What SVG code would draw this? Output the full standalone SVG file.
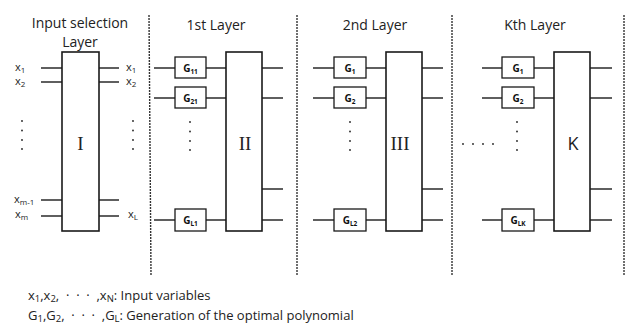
<svg xmlns="http://www.w3.org/2000/svg" width="626" height="325" viewBox="0 0 626 325">
  <style>
    .bg { fill: #ffffff; }
    .blk { fill: #ffffff; stroke: #1a1a1a; stroke-width: 1.6; }
    .gbox { fill: #ffffff; stroke: #1a1a1a; stroke-width: 1.3; }
    .wire { stroke: #1a1a1a; stroke-width: 1.4; fill: none; }
    .sep { stroke: #333333; stroke-width: 1.4; stroke-dasharray: 2 1; fill: none; }
    .title { font-family: "Open Sans", "Noto Sans", sans-serif; font-size: 14px; fill: #222222; text-anchor: middle; }
    .lbl { font-family: "Open Sans", "Noto Sans", sans-serif; font-size: 11px; fill: #222222; }
    .sub { font-size: 8px; }
    .g { font-family: "Open Sans", "Noto Sans", sans-serif; font-size: 10px; font-weight: bold; fill: #111111; text-anchor: middle; }
    .gsub { font-size: 6.5px; }
    .roman { font-family: "Liberation Serif", serif; font-size: 19px; fill: #222222; text-anchor: middle; }
    .kname { font-family: "Open Sans", "Noto Sans", sans-serif; font-size: 18px; fill: #222222; text-anchor: middle; }
    .dot { fill: #222222; }
    .note { font-family: "Open Sans", "Noto Sans", sans-serif; font-size: 13px; fill: #222222; }
    .nsub { font-size: 9.5px; }
  </style>
  <defs>
    <g id="vdots">
      <circle cx="0" cy="0" r="0.9" class="dot"/>
      <circle cx="0" cy="9.5" r="0.9" class="dot"/>
      <circle cx="0" cy="19" r="0.9" class="dot"/>
      <circle cx="0" cy="28" r="0.9" class="dot"/>
    </g>
  </defs>
  <rect class="bg" x="0" y="0" width="626" height="325"/>

  <!-- layer separators -->
  <g id="separators">
    <line class="sep" x1="149" y1="15" x2="151" y2="275"/>
    <line class="sep" x1="297" y1="15" x2="297" y2="275"/>
    <line class="sep" x1="452" y1="15" x2="452" y2="275"/>
    <line class="sep" x1="624" y1="15" x2="624" y2="275"/>
  </g>

  <!-- wires -->
  <g id="connectors">
    <!-- input selection layer -->
    <line class="wire" x1="41" y1="68" x2="62" y2="68"/>
    <line class="wire" x1="41" y1="82" x2="62" y2="82"/>
    <line class="wire" x1="41" y1="200" x2="62" y2="200"/>
    <line class="wire" x1="41" y1="216" x2="62" y2="216"/>
    <line class="wire" x1="99" y1="68" x2="119" y2="68"/>
    <line class="wire" x1="99" y1="82" x2="119" y2="82"/>
    <line class="wire" x1="99" y1="200" x2="119" y2="200"/>
    <line class="wire" x1="99" y1="216" x2="119" y2="216"/>
    <!-- 1st layer -->
    <line class="wire" x1="154" y1="68" x2="175" y2="68"/>
    <line class="wire" x1="154" y1="98" x2="175" y2="98"/>
    <line class="wire" x1="154" y1="220" x2="175" y2="220"/>
    <line class="wire" x1="206" y1="68" x2="226" y2="68"/>
    <line class="wire" x1="206" y1="98" x2="226" y2="98"/>
    <line class="wire" x1="206" y1="220" x2="226" y2="220"/>
    <line class="wire" x1="262" y1="68" x2="283" y2="68"/>
    <line class="wire" x1="262" y1="98" x2="283" y2="98"/>
    <line class="wire" x1="262" y1="189" x2="283" y2="189"/>
    <line class="wire" x1="262" y1="220" x2="283" y2="220"/>
    <!-- 2nd layer -->
    <line class="wire" x1="313" y1="68" x2="334" y2="68"/>
    <line class="wire" x1="313" y1="98" x2="334" y2="98"/>
    <line class="wire" x1="313" y1="220" x2="334" y2="220"/>
    <line class="wire" x1="366" y1="68" x2="386" y2="68"/>
    <line class="wire" x1="366" y1="98" x2="386" y2="98"/>
    <line class="wire" x1="366" y1="220" x2="386" y2="220"/>
    <line class="wire" x1="422" y1="68" x2="443" y2="68"/>
    <line class="wire" x1="422" y1="98" x2="443" y2="98"/>
    <line class="wire" x1="422" y1="189" x2="443" y2="189"/>
    <line class="wire" x1="422" y1="220" x2="443" y2="220"/>
    <!-- Kth layer -->
    <line class="wire" x1="482" y1="68" x2="502" y2="68"/>
    <line class="wire" x1="482" y1="98" x2="502" y2="98"/>
    <line class="wire" x1="482" y1="220" x2="502" y2="220"/>
    <line class="wire" x1="534" y1="68" x2="554" y2="68"/>
    <line class="wire" x1="534" y1="98" x2="554" y2="98"/>
    <line class="wire" x1="534" y1="220" x2="554" y2="220"/>
    <line class="wire" x1="590" y1="68" x2="612" y2="68"/>
    <line class="wire" x1="590" y1="98" x2="612" y2="98"/>
    <line class="wire" x1="590" y1="189" x2="612" y2="189"/>
    <line class="wire" x1="590" y1="220" x2="612" y2="220"/>
  </g>

  <!-- input selection layer -->
  <g id="input-layer">
    <text class="title" x="80" y="28">Input selection</text>
    <text class="title" x="80" y="47">Layer</text>
    <rect class="blk" x="62" y="52" width="37" height="179"/>
    <text class="roman" x="80.5" y="150">I</text>
    <text class="lbl" x="15" y="71">x<tspan class="sub" dy="2">1</tspan></text>
    <text class="lbl" x="15" y="85">x<tspan class="sub" dy="2">2</tspan></text>
    <text class="lbl" x="14" y="203">x<tspan class="sub" dy="2">m-1</tspan></text>
    <text class="lbl" x="15" y="218">x<tspan class="sub" dy="2">m</tspan></text>
    <text class="lbl" x="126" y="71">x<tspan class="sub" dy="2">1</tspan></text>
    <text class="lbl" x="126" y="85">x<tspan class="sub" dy="2">2</tspan></text>
    <text class="lbl" x="128" y="218">x<tspan class="sub" dy="2">L</tspan></text>
    <use href="#vdots" x="22" y="121"/>
    <use href="#vdots" x="133" y="121"/>
  </g>

  <!-- 1st layer -->
  <g id="layer-1">
    <text class="title" x="216" y="30">1st Layer</text>
    <rect class="blk" x="226" y="52" width="36" height="179"/>
    <text class="roman" x="245" y="150">II</text>
    <use href="#vdots" x="190" y="122"/>
  </g>
  <g id="g11"><rect class="gbox" x="175" y="57" width="31" height="21"/><text class="g" x="190.5" y="72">G<tspan class="gsub" dy="2">11</tspan></text></g>
  <g id="g21"><rect class="gbox" x="175" y="87" width="31" height="21"/><text class="g" x="190.5" y="102">G<tspan class="gsub" dy="2">21</tspan></text></g>
  <g id="gl1"><rect class="gbox" x="175" y="209" width="31" height="22"/><text class="g" x="190.5" y="224">G<tspan class="gsub" dy="2">L1</tspan></text></g>

  <!-- 2nd layer -->
  <g id="layer-2">
    <text class="title" x="375" y="30">2nd Layer</text>
    <rect class="blk" x="386" y="52" width="36" height="179"/>
    <text class="roman" x="400" y="150">III</text>
    <use href="#vdots" x="350" y="122"/>
  </g>
  <g id="g1-l2"><rect class="gbox" x="334" y="57" width="32" height="21"/><text class="g" x="350" y="72">G<tspan class="gsub" dy="2">1</tspan></text></g>
  <g id="g2-l2"><rect class="gbox" x="334" y="87" width="32" height="21"/><text class="g" x="350" y="102">G<tspan class="gsub" dy="2">2</tspan></text></g>
  <g id="gl2"><rect class="gbox" x="334" y="209" width="32" height="22"/><text class="g" x="350" y="224">G<tspan class="gsub" dy="2">L2</tspan></text></g>

  <!-- Kth layer -->
  <g id="layer-k">
    <text class="title" x="535" y="30">Kth Layer</text>
    <rect class="blk" x="554" y="52" width="36" height="179"/>
    <text class="kname" x="573" y="150">K</text>
    <use href="#vdots" x="517" y="122"/>
    <circle class="dot" cx="463" cy="144" r="0.9"/>
    <circle class="dot" cx="473" cy="144" r="0.9"/>
    <circle class="dot" cx="483" cy="144" r="0.9"/>
    <circle class="dot" cx="493" cy="144" r="0.9"/>
  </g>
  <g id="g1-lk"><rect class="gbox" x="502" y="57" width="32" height="21"/><text class="g" x="518" y="72">G<tspan class="gsub" dy="2">1</tspan></text></g>
  <g id="g2-lk"><rect class="gbox" x="502" y="87" width="32" height="21"/><text class="g" x="518" y="102">G<tspan class="gsub" dy="2">2</tspan></text></g>
  <g id="glk"><rect class="gbox" x="502" y="209" width="32" height="22"/><text class="g" x="518" y="224">G<tspan class="gsub" dy="2">LK</tspan></text></g>

  <!-- legend -->
  <g id="legend">
    <text class="note" x="28" y="300">x<tspan class="nsub" dy="1.5">1</tspan><tspan dy="-1.5">,x</tspan><tspan class="nsub" dy="1.5">2</tspan><tspan dy="-1.5">,&#160; ·&#160; ·&#160; ·&#160; ,x</tspan><tspan class="nsub" dy="1.5">N</tspan><tspan dy="-1.5">: Input variables</tspan></text>
    <text class="note" x="28" y="320">G<tspan class="nsub" dy="1.5">1</tspan><tspan dy="-1.5">,G</tspan><tspan class="nsub" dy="1.5">2</tspan><tspan dy="-1.5">,&#160; ·&#160; ·&#160; ·&#160; ,G</tspan><tspan class="nsub" dy="1.5">L</tspan><tspan dy="-1.5">: Generation of the optimal polynomial</tspan></text>
  </g>
</svg>
